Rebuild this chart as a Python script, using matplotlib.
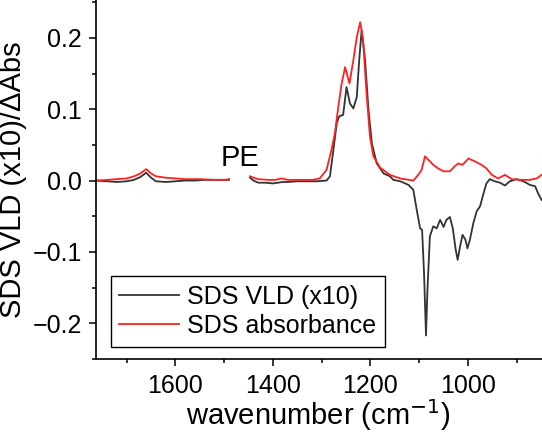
import numpy as np
import matplotlib.pyplot as plt
from matplotlib.ticker import MultipleLocator, FuncFormatter

plt.rcParams['font.family'] = ['Liberation Sans', 'DejaVu Sans']

# SDS VLD (x10), two segments split by the PE gap
vld_wn_left = [1763, 1740, 1720, 1700, 1685, 1672, 1660, 1650, 1640, 1620, 1600,
               1580, 1560, 1540, 1520, 1500, 1490]
vld_left = [0.000, -0.001, -0.002, -0.001, 0.001, 0.005, 0.011, 0.004, -0.001, -0.002, -0.001,
            0.000, 0.000, 0.001, 0.001, 0.001, 0.001]
vld_wn_right = [1447, 1440, 1430, 1415, 1400, 1390, 1380, 1370, 1350, 1330, 1310, 1290,
                1283, 1276, 1269, 1264, 1256, 1249, 1242, 1235, 1228, 1223, 1218, 1211,
                1204, 1197, 1187, 1180, 1173, 1160, 1153, 1139, 1122, 1112, 1105, 1098,
                1094, 1090, 1086, 1083, 1078, 1071, 1064, 1057, 1050, 1044, 1037, 1031,
                1025, 1021, 1016, 1011, 1005, 1001, 996, 989, 982, 975, 968, 962, 955,
                945, 934, 924, 914, 900, 886, 873, 862, 856, 849]
vld_right = [0.004, 0.000, -0.003, -0.003, -0.004, -0.003, -0.002, -0.002, -0.001, -0.001, -0.001, 0.000,
             0.006, 0.043, 0.081, 0.090, 0.092, 0.131, 0.108, 0.101, 0.117, 0.169, 0.211, 0.169,
             0.099, 0.052, 0.024, 0.017, 0.010, 0.006, 0.001, -0.001, -0.006, -0.013, -0.041, -0.067,
             -0.069, -0.130, -0.217, -0.153, -0.078, -0.064, -0.067, -0.055, -0.065, -0.055, -0.051, -0.067,
             -0.097, -0.111, -0.092, -0.076, -0.083, -0.095, -0.083, -0.060, -0.043, -0.036, -0.018, -0.004, 0.002,
             -0.001, -0.003, -0.007, -0.001, 0.002, -0.001, -0.006, -0.008, -0.018, -0.027]

# SDS absorbance
abs_wn_left = [1763, 1740, 1720, 1700, 1685, 1672, 1660, 1650, 1640, 1620, 1600,
               1580, 1550, 1520, 1500, 1490]
abs_left = [0.000, 0.001, 0.002, 0.003, 0.006, 0.010, 0.016, 0.010, 0.006, 0.004, 0.003,
            0.002, 0.002, 0.001, 0.001, 0.002]
abs_wn_right = [1447, 1440, 1430, 1410, 1395, 1382, 1370, 1350, 1330, 1318, 1304, 1290,
                1280, 1273, 1266, 1259, 1252, 1243, 1235, 1228, 1221, 1215, 1208, 1201,
                1194, 1180, 1160, 1139, 1112, 1102, 1095, 1088, 1081, 1071, 1061, 1050,
                1037, 1027, 1020, 1011, 999, 986, 972, 962, 951, 938, 924, 910, 893,
                873, 859, 849]
abs_right = [0.006, 0.004, 0.002, 0.001, 0.001, 0.003, 0.001, 0.001, 0.001, 0.001, 0.003, 0.015,
             0.043, 0.066, 0.103, 0.136, 0.159, 0.136, 0.169, 0.201, 0.222, 0.197, 0.122, 0.062,
             0.034, 0.018, 0.008, 0.003, 0.000, 0.008, 0.015, 0.034, 0.029, 0.022, 0.017, 0.013,
             0.013, 0.020, 0.024, 0.022, 0.031, 0.027, 0.022, 0.017, 0.008, 0.003, 0.008, 0.002, 0.001,
             0.001, 0.003, 0.008]

vld_wn = vld_wn_left + [np.nan] + vld_wn_right
vld = vld_left + [np.nan] + vld_right
abs_wn = abs_wn_left + [np.nan] + abs_wn_right
absorb = abs_left + [np.nan] + abs_right

fig = plt.figure(figsize=(5.42, 4.32), dpi=100)
ax = fig.add_axes([96 / 542, 73 / 432, 446 / 542, 359 / 432])

ax.plot(vld_wn, vld, color='#333333', lw=1.3, label='SDS VLD (x10)')
ax.plot(abs_wn, absorb, color='#ff2020', lw=1.3, label='SDS absorbance')

ax.set_xlim(1763, 848)
ax.set_ylim(-0.25, 0.253)
ax.xaxis.set_major_locator(MultipleLocator(200))
ax.xaxis.set_minor_locator(MultipleLocator(100))
ax.yaxis.set_major_locator(MultipleLocator(0.1))
ax.yaxis.set_minor_locator(MultipleLocator(0.05))
ax.yaxis.set_major_formatter(FuncFormatter(lambda v, p: f'{v:.1f}'.replace('-', '\u2212')))
ax.tick_params(which='major', direction='out', length=5, width=1.1, labelsize=18)
ax.tick_params(which='minor', direction='out', length=3, width=1.1)
ax.tick_params(axis='x', which='major', pad=5.5)
ax.tick_params(axis='y', which='major', pad=5)
for s in ['top', 'right']:
    ax.spines[s].set_visible(False)
for s in ['left', 'bottom']:
    ax.spines[s].set_linewidth(1.2)

# axis titles placed in figure pixels
fig.text(318.5 / 542, 1 - 415 / 432, 'wavenumber (cm$^{-1}$)', fontsize=21,
         ha='center', va='center')
fig.text(13 / 542, 1 - 179.5 / 432, 'SDS VLD (x10)/ΔAbs', fontsize=21,
         ha='center', va='center', rotation=90)

ax.text(1468, 0.032, 'PE', fontsize=21, ha='center', va='center')

leg = ax.legend(loc='lower left', bbox_to_anchor=(0.033, 0.034), borderaxespad=0,
                fontsize=18, fancybox=False, edgecolor='black', framealpha=1,
                handlelength=2.4, handletextpad=0.3, borderpad=0.35, labelspacing=0.2)
leg.get_frame().set_linewidth(1.0)

fig.savefig('out.png', dpi=100)
